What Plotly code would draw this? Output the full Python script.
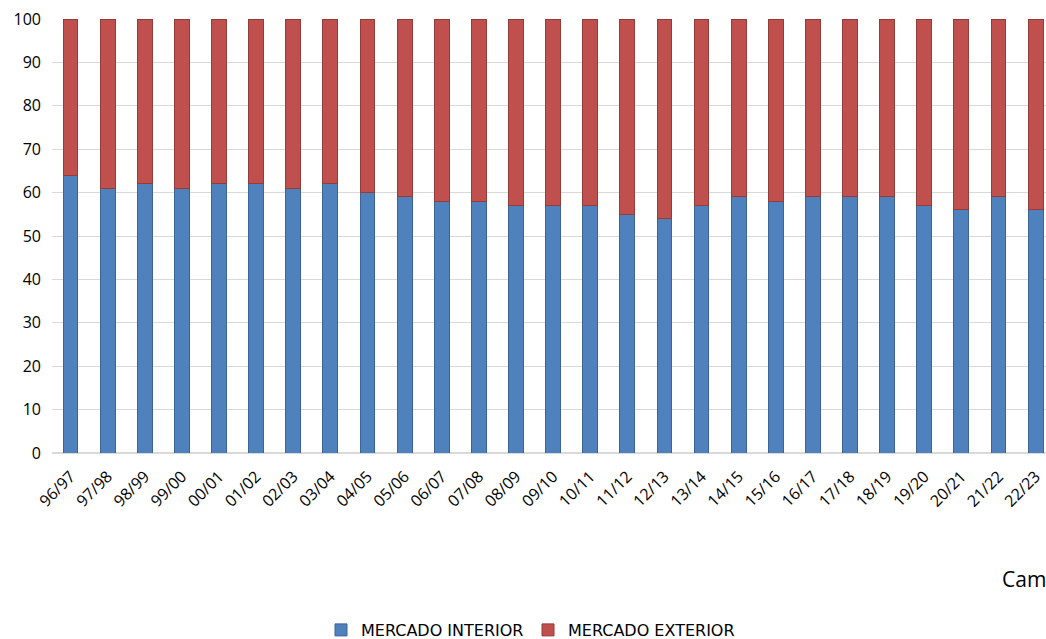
import plotly.graph_objects as go

campaigns = ["96/97", "97/98", "98/99", "99/00", "00/01", "01/02", "02/03", "03/04",
             "04/05", "05/06", "06/07", "07/08", "08/09", "09/10", "10/11", "11/12",
             "12/13", "13/14", "14/15", "15/16", "16/17", "17/18", "18/19", "19/20",
             "20/21", "21/22", "22/23"]
interior = [64, 61, 62, 61, 62, 62, 61, 62, 60, 59, 58, 58, 57, 57, 57, 55,
            54, 57, 59, 58, 59, 59, 59, 57, 56, 59, 56]
exterior = [100 - v for v in interior]

fig = go.Figure()
fig.add_trace(go.Bar(
    x=campaigns, y=interior, name="MERCADO INTERIOR",
    marker=dict(color="#4F81BD", line=dict(color="#3A6496", width=1)),
    width=0.4,
))
fig.add_trace(go.Bar(
    x=campaigns, y=exterior, name="MERCADO EXTERIOR",
    marker=dict(color="#C0504D", line=dict(color="#943C3A", width=1)),
    width=0.4,
))

fig.update_layout(
    barmode="stack",
    width=1046, height=639,
    margin=dict(l=52, r=0, t=19, b=186, autoexpand=False),
    plot_bgcolor="white", paper_bgcolor="white",
    font=dict(family="Open Sans", size=16, color="#000000"),
    legend=dict(orientation="h", xref="container", yref="container",
                x=321 / 1046, xanchor="left", y=(639 - 630) / 639, yanchor="middle",
                font=dict(family="DejaVu Sans", size=16), traceorder="normal",
                entrywidth=162, entrywidthmode="pixels"),
    showlegend=True,
)
fig.update_xaxes(
    type="category", range=[-0.5, 26.28], tickangle=-45,
    showgrid=False, showline=False, ticks="",
    tickfont=dict(size=16), ticklabelstandoff=10,
)
fig.update_yaxes(
    range=[0, 100], dtick=10, showgrid=True, gridcolor="#D9D9D9", gridwidth=1,
    zeroline=True, zerolinecolor="#D9D9D9", showline=False, ticks="",
    tickfont=dict(size=16), ticklabelstandoff=10,
)
fig.add_annotation(
    text="Campaña", xref="paper", yref="paper", x=(1000 - 52) / 994, y=(453 - 579) / 434,
    xanchor="left", yanchor="middle", showarrow=False,
    font=dict(family="Open Sans", size=21, color="#000000"),
)

# page body has a default 8px margin; drop it so the figure fills the window
fig.write_html("out.html", config={"displayModeBar": False},
               post_script="document.body.style.margin='0';document.body.style.overflow='hidden';")
